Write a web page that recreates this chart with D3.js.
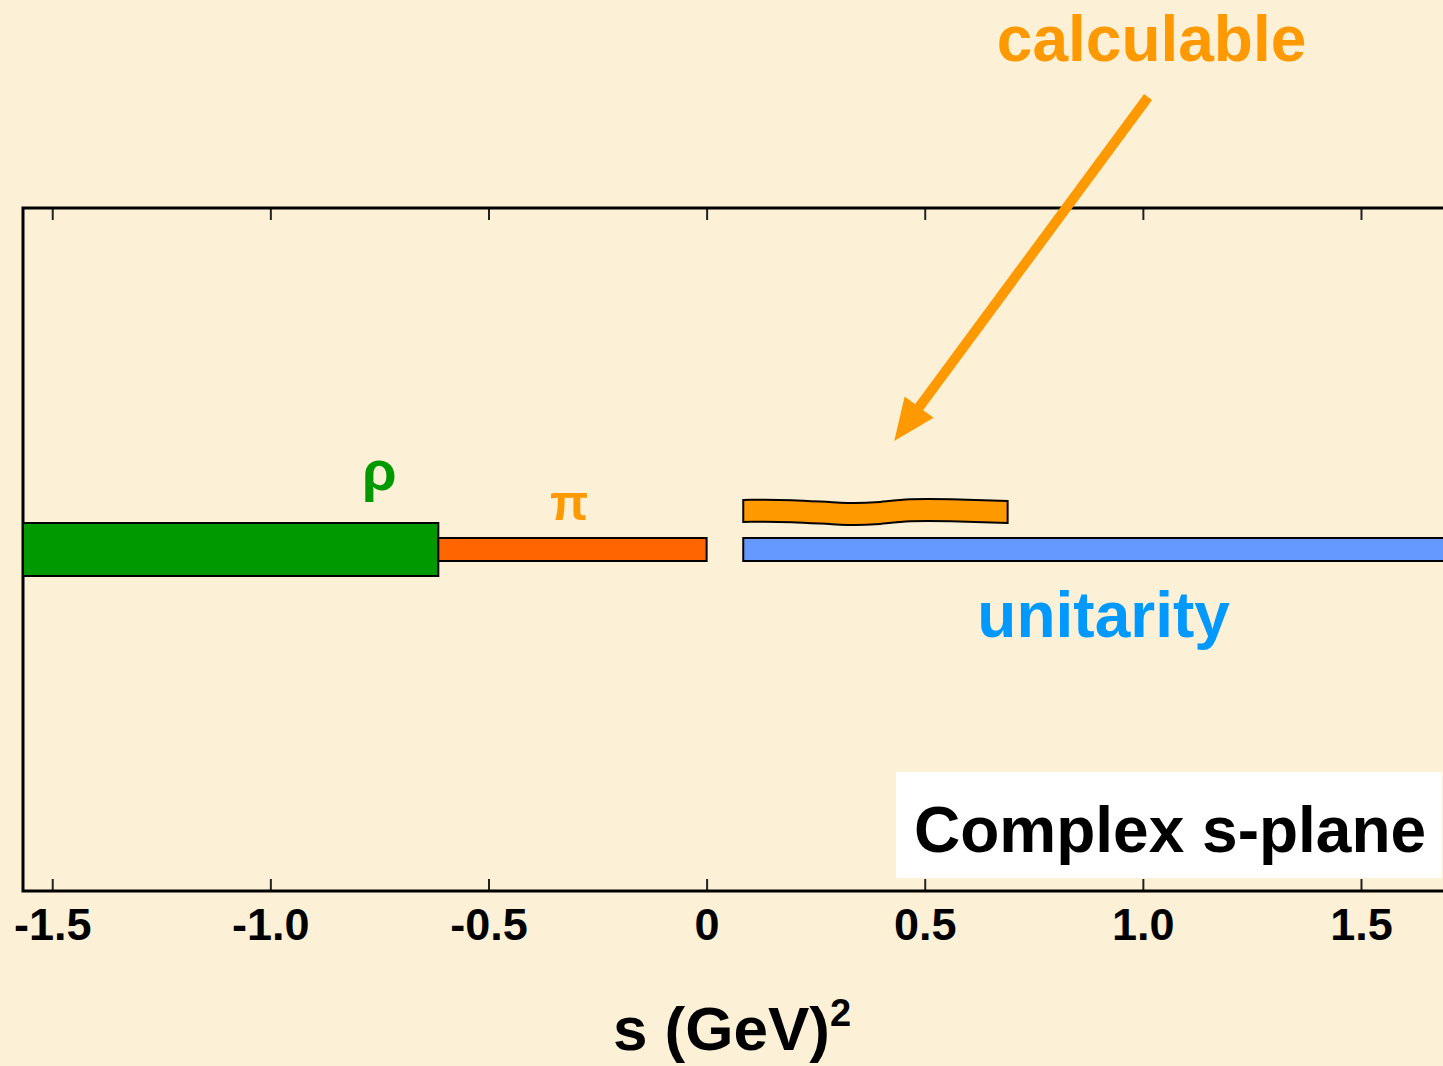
<!DOCTYPE html>
<html>
<head>
<meta charset="utf-8">
<script src="https://cdn.jsdelivr.net/npm/d3@7/dist/d3.min.js"></script>
<style>
  html, body { margin: 0; padding: 0; background: #fcf0d7; }
  svg { display: block; }
  text { font-family: "Liberation Sans", Arial, sans-serif; font-weight: bold; }
</style>
</head>
<body>
<svg id="chart"></svg>
<script>
// real axis (s in GeV^2)
const tickValues = [-1.5, -1.0, -0.5, 0, 0.5, 1.0, 1.5];
const tickLabels = ["-1.5", "-1.0", "-0.5", "0", "0.5", "1.0", "1.5"];

// cuts along the real axis
const cutNames = ["rho", "pi", "unitarity"];
const cutStart = [-1.567, -0.615, 0.084];
const cutEnd = [-0.615, 0, 1.75];

// region where the amplitude is calculable (slightly above the axis)
const calcStart = 0.084;
const calcEnd = 0.69;
const calcIm = 0.11;

// labels: [text, s, Im s]
const labelText = ["ρ", "π", "unitarity", "calculable"];
const labelS = [-0.75, -0.315, 0.91, 1.02];
const labelIm = [0.174, 0.086, -0.256, 1.43];

// arrow from label to the calculable band
const arrowFrom = [1.012, 1.325];
const arrowTo = [0.43, 0.318];

const width = 1443, height = 1066;
const frame = { left: 23, right: 1443, top: 208, bottom: 891 };

const colors = {
  rho: "#009900",
  pi: "#ff6600",
  unitarity: "#6699ff",
  calc: "#ff9900",
  piText: "#ff9900",
  unitText: "#0099ff"
};
const cutHeight = { rho: 53, pi: 23, unitarity: 23 };

const svg = d3.select("#chart")
  .attr("width", width)
  .attr("height", height);

svg.append("rect")
  .attr("width", width)
  .attr("height", height)
  .attr("fill", "#fcf0d7");

const x = d3.scaleLinear()
  .domain([-1.567, 1.688])
  .range([frame.left, frame.right]);

const y = d3.scaleLinear()
  .domain([-1, 1])
  .range([frame.bottom, frame.top]);

// ticks on top and bottom edges
const bottomAxis = d3.axisBottom(x)
  .tickValues(tickValues)
  .tickFormat((d, i) => tickLabels[i])
  .tickSize(-12)
  .tickPadding(17);

const topAxis = d3.axisTop(x)
  .tickValues(tickValues)
  .tickFormat("")
  .tickSize(-12);

const gb = svg.append("g")
  .attr("transform", "translate(0," + frame.bottom + ")")
  .call(bottomAxis);
gb.select(".domain").remove();
gb.selectAll(".tick line").attr("stroke", "#222").attr("stroke-width", 2);
gb.selectAll(".tick text")
  .attr("fill", "#000")
  .style("font-size", "45px")
  .style("font-family", "'Liberation Sans', Arial, sans-serif")
  .style("font-weight", "bold");

const gt = svg.append("g")
  .attr("transform", "translate(0," + frame.top + ")")
  .call(topAxis);
gt.select(".domain").remove();
gt.selectAll(".tick line").attr("stroke", "#222").attr("stroke-width", 2);

// frame (open on the right)
svg.append("path")
  .attr("d", "M" + (frame.right + 5) + "," + frame.top + "H" + frame.left + "V" + frame.bottom + "H" + (frame.right + 5))
  .attr("fill", "none")
  .attr("stroke", "#000")
  .attr("stroke-width", 3);

// cuts
svg.selectAll("rect.cut")
  .data(cutNames)
  .enter()
  .append("rect")
  .attr("class", "cut")
  .attr("x", (d, i) => x(cutStart[i]))
  .attr("width", (d, i) => x(cutEnd[i]) - x(cutStart[i]))
  .attr("y", d => y(0) - cutHeight[d] / 2)
  .attr("height", d => cutHeight[d])
  .attr("fill", d => colors[d])
  .attr("stroke", "#000")
  .attr("stroke-width", 2);

// wavy calculable band
const cx0 = x(calcStart), cx1 = x(calcEnd), cy = y(calcIm), hh = 11;
const wave = [[0, -1], [0.18, -1.5], [0.38, 2.5], [0.5, 2], [0.62, -2.5], [0.82, -1.5], [1, 0]];
const waveLine = d3.line()
  .x(d => cx0 + d[0] * (cx1 - cx0))
  .y(d => d[1])
  .curve(d3.curveBasis);
const topEdge = waveLine(wave.map(p => [p[0], cy - hh + p[1]]));
const botEdge = waveLine(wave.slice().reverse().map(p => [p[0], cy + hh + p[1]]));
svg.append("path")
  .attr("d", topEdge + "L" + botEdge.slice(1) + "Z")
  .attr("fill", colors.calc)
  .attr("stroke", "#000")
  .attr("stroke-width", 2);

// arrow
const ax0 = x(arrowFrom[0]), ay0 = y(arrowFrom[1]);
const ax1 = x(arrowTo[0]), ay1 = y(arrowTo[1]);
const len = Math.hypot(ax1 - ax0, ay1 - ay0);
const ux = (ax1 - ax0) / len, uy = (ay1 - ay0) / len;
const headLen = 42, headHalf = 18;
const bx = ax1 - ux * headLen, by = ay1 - uy * headLen;
svg.append("line")
  .attr("x1", ax0).attr("y1", ay0)
  .attr("x2", bx + ux * 2).attr("y2", by + uy * 2)
  .attr("stroke", colors.calc)
  .attr("stroke-width", 10);
svg.append("path")
  .attr("d", "M" + ax1 + "," + ay1 +
    "L" + (bx - uy * headHalf) + "," + (by + ux * headHalf) +
    "L" + (bx + uy * headHalf) + "," + (by - ux * headHalf) + "Z")
  .attr("fill", colors.calc);

// labels
const labelColor = [colors.rho, colors.piText, colors.unitText, colors.calc];
const labelSize = [56, 50, 64, 64];
svg.selectAll("text.lbl")
  .data(labelText)
  .enter()
  .append("text")
  .attr("class", "lbl")
  .attr("x", (d, i) => x(labelS[i]))
  .attr("y", (d, i) => y(labelIm[i]))
  .attr("text-anchor", "middle")
  .attr("fill", (d, i) => labelColor[i])
  .style("font-size", (d, i) => labelSize[i] + "px")
  .text(d => d);

// "Complex s-plane" box
svg.append("rect")
  .attr("x", 896).attr("y", 772)
  .attr("width", 546).attr("height", 106)
  .attr("fill", "#fff");
svg.append("text")
  .attr("x", 914).attr("y", 852)
  .attr("fill", "#000")
  .style("font-size", "64px")
  .text("Complex s-plane");

// axis title
const title = svg.append("text")
  .attr("x", 732).attr("y", 1050)
  .attr("text-anchor", "middle")
  .attr("fill", "#000")
  .style("font-size", "62px");
title.append("tspan").text("s (GeV)");
title.append("tspan")
  .attr("dy", -24)
  .style("font-size", "38px")
  .text("2");
</script>
</body>
</html>
